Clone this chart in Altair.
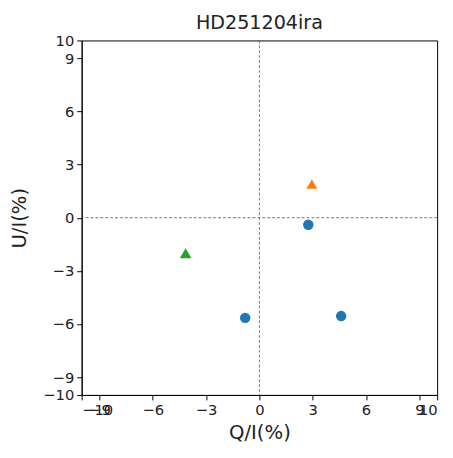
import altair as alt
import pandas as pd

q_vals = [2.75, -0.8, 4.6, 2.95, -4.15]
u_vals = [-0.4, -5.65, -5.55, 1.9, -2.0]
groups = ["a", "a", "a", "b", "c"]
ticks = [-10, -9, -6, -3, 0, 3, 6, 9, 10]

df = pd.DataFrame({"Q": q_vals, "U": u_vals, "g": groups})
zero = pd.DataFrame({"v": [0]})

xs = alt.Scale(domain=[-10, 10], nice=False, zero=False)
ys = alt.Scale(domain=[-10, 10], nice=False, zero=False)

axis_common = dict(
    values=ticks, grid=False, tickSize=5, tickColor="black", domainColor="black",
    labelFont="DejaVu Sans", labelFontSize=15, labelColor="#222",
    titleFont="DejaVu Sans", titleFontSize=20, titleFontWeight="normal", titleColor="#222",
    format="d", labelPadding=3,
)

vline = alt.Chart(zero).mark_rule(color="#555", strokeDash=[3, 2], strokeWidth=0.8).encode(
    x=alt.X("v:Q", scale=xs, axis=alt.Axis(title="Q/I(%)", labelOverlap=False, titlePadding=5, **axis_common)))
hline = alt.Chart(zero).mark_rule(color="#555", strokeDash=[3, 2], strokeWidth=0.8).encode(
    y=alt.Y("v:Q", scale=ys, axis=alt.Axis(title="U/I(%)", labelOverlap=False, titlePadding=14, **axis_common)))

pts = alt.Chart(df).mark_point(filled=True, opacity=1).encode(
    x=alt.X("Q:Q", scale=xs),
    y=alt.Y("U:Q", scale=ys),
    color=alt.Color("g:N", scale=alt.Scale(domain=["a", "b", "c"], range=["#1f77b4", "#ff7f0e", "#2ca02c"]), legend=None),
    shape=alt.Shape("g:N", scale=alt.Scale(domain=["a", "b", "c"], range=["circle", "triangle-up", "triangle-up"]), legend=None),
    size=alt.Size("g:N", scale=alt.Scale(domain=["a", "b", "c"], range=[113, 140, 140]), legend=None),
)

chart = alt.layer(vline, hline, pts).properties(
    width=362, height=361,
    title=alt.TitleParams("HD251204ira", font="DejaVu Sans", fontSize=19.5, fontWeight="normal", color="#222", offset=0),
    autosize=alt.AutoSizeParams(type="none"),
    padding={"left": 75, "top": 29, "right": 8, "bottom": 52},
).configure_view(stroke="black", strokeWidth=1)

chart.save("out.html", embed_options={"renderer": "svg", "actions": False})
